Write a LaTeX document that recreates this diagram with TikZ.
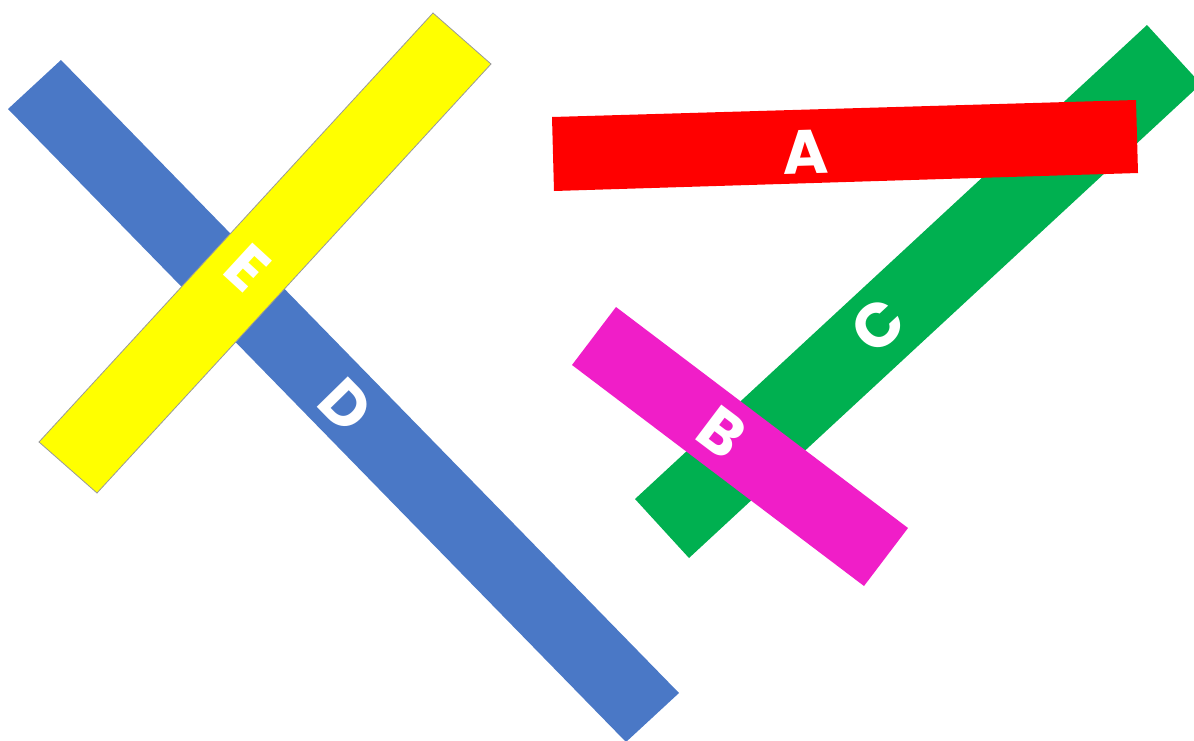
\documentclass[tikz,border=0pt]{standalone}
\usepackage{fontspec}
\setmainfont{Poppins}
\definecolor{barblue}{HTML}{4A78C6}
\definecolor{baryellow}{HTML}{FFFF00}
\definecolor{barred}{HTML}{FF0000}
\definecolor{bargreen}{HTML}{00B050}
\definecolor{barmagenta}{HTML}{F01EC8}
\tikzset{
  bar/.style={fill=#1, draw=none},
  lettr/.style={text=white, font=\fontsize{62}{62}\selectfont\bfseries, inner sep=0pt}
}
\begin{document}
\begin{tikzpicture}[x=1pt,y=-1pt]
\useasboundingbox (0,0) rectangle (1194,740);
\clip (0,0) rectangle (1194,740);
% D (blue)
\fill[bar=barblue] (8,109) -- (61,60) -- (679,693) -- (626,742) -- cycle;
% E (yellow)
\filldraw[bar=baryellow, draw=gray!80, line width=0.8pt] (39,442) -- (433,13) -- (491,64) -- (97,493) -- cycle;
% C (green)
\fill[bar=bargreen] (635,499) -- (1147,25) -- (1201,84) -- (689,558) -- cycle;
% A (red)
\fill[bar=barred] (552,117) -- (1136,100) -- (1138,173) -- (554,191) -- cycle;
% B (magenta)
\fill[bar=barmagenta] (572,365) -- (616,307) -- (908,528) -- (864,586) -- cycle;
% letters
\node[lettr, rotate=-42.6] (labE) at (248,268) {E};
\node[lettr, rotate=-45.6] (labD) at (346,405) {D};
\node[lettr, rotate=42.8] (labC) at (878,325) {C};
\node[lettr, rotate=-37] (labB) at (722,432) {B};
\node[lettr, rotate=1.7] (labA) at (806,152) {A};
\end{tikzpicture}
\end{document}
